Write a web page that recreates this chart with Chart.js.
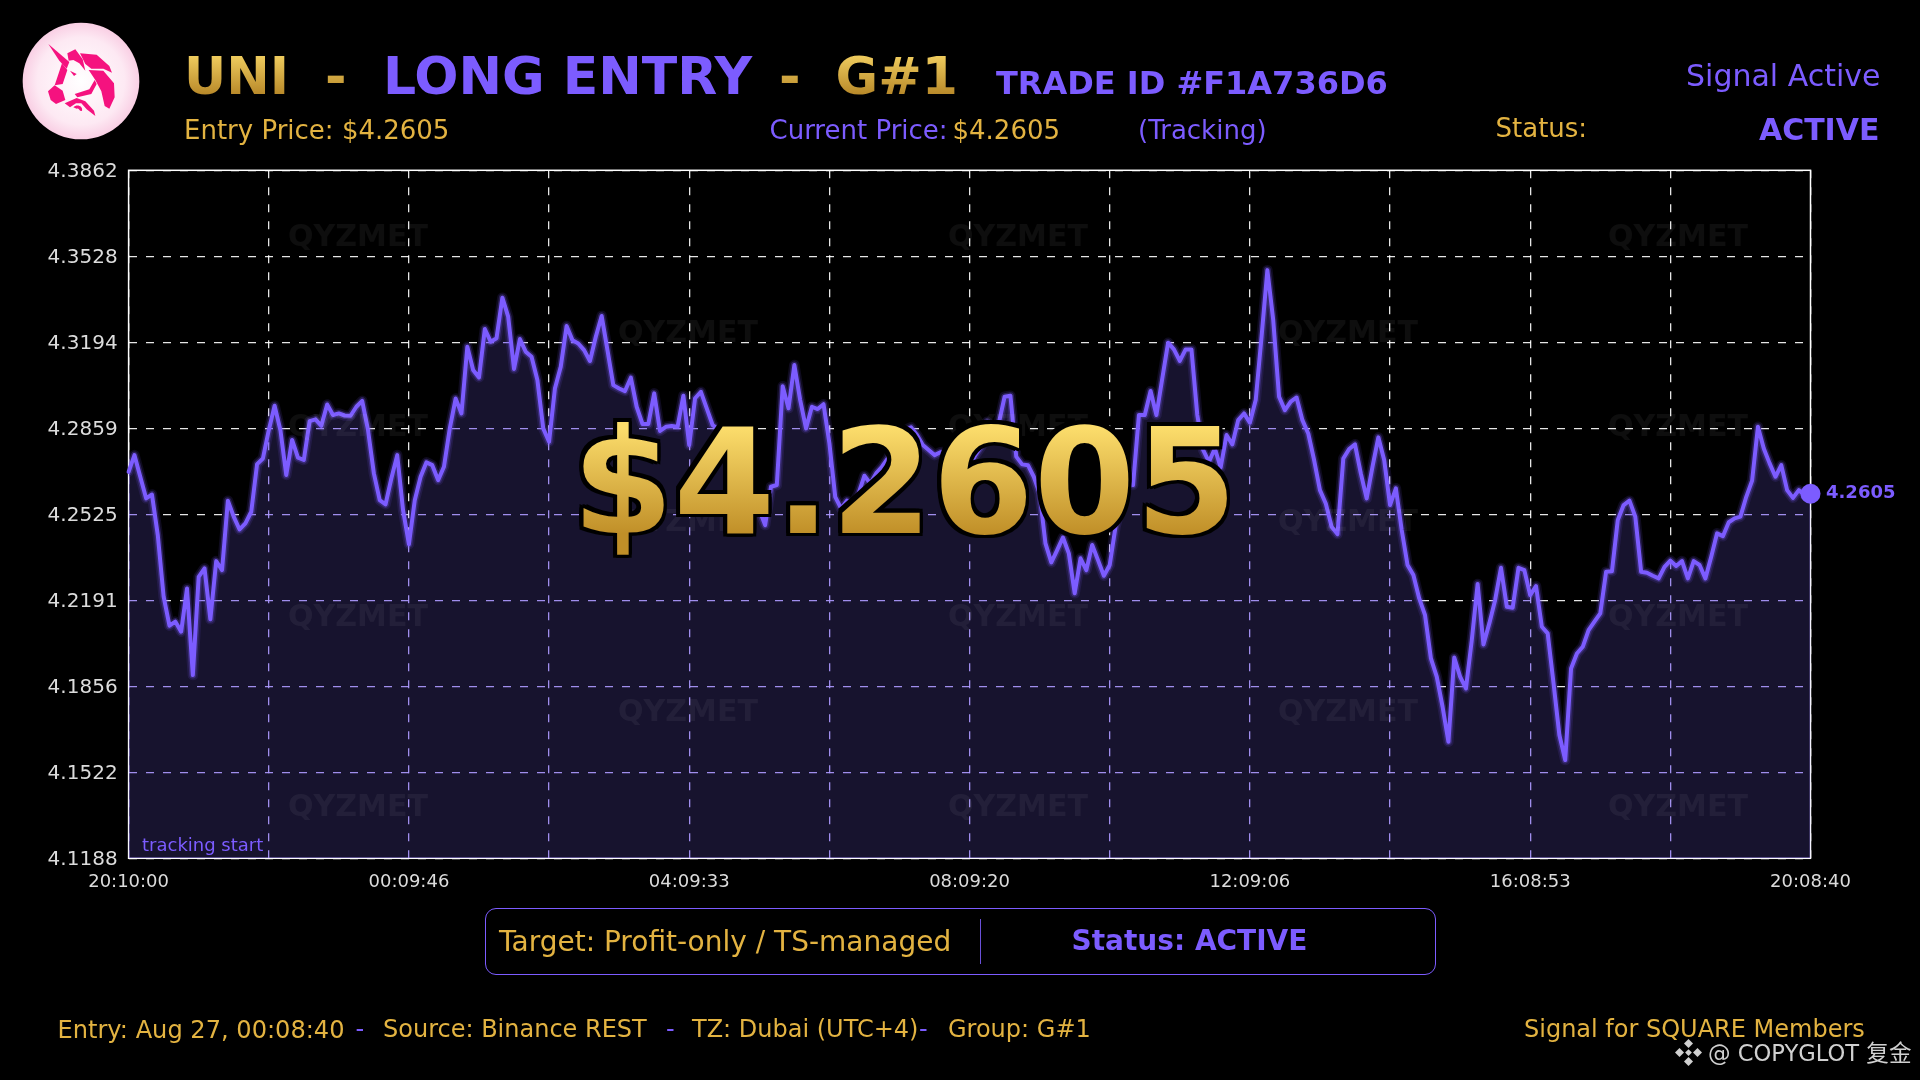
<!DOCTYPE html>
<html><head><meta charset="utf-8">
<script src="https://cdn.jsdelivr.net/npm/chart.js@4"></script>
<style>
html,body{margin:0;padding:0;background:#000;width:1920px;height:1080px;overflow:hidden;font-family:"DejaVu Sans",sans-serif}
#c{position:absolute;left:0;top:0}
.t{position:absolute;white-space:pre;line-height:1.164}
.goldG{background:linear-gradient(180deg,#f0cd5f 15%,#b98a2a 80%);-webkit-background-clip:text;background-clip:text;color:transparent}
.big{background:linear-gradient(180deg,#fbdc6b 18%,#c08f28 80%);-webkit-background-clip:text;background-clip:text;color:transparent;
filter:drop-shadow(3.5px 0 0 #000) drop-shadow(-3.5px 0 0 #000) drop-shadow(0 3.5px 0 #000) drop-shadow(0 -3.5px 0 #000)}
#box{position:absolute;left:484.5px;top:908px;width:951px;height:67px;border:1.5px solid #7c5cff;border-radius:11px;box-sizing:border-box}
#div{position:absolute;left:980px;top:919px;width:1px;height:45px;background:#6a50d8}
</style></head><body>
<canvas id="c" width="1920" height="1080" style="width:1920px;height:1080px"></canvas>
<svg style="position:absolute;left:20px;top:20px" width="122" height="122" viewBox="0 0 366 366">
<defs><radialGradient id="lg" cx="50%" cy="50%" r="50%"><stop offset="0" stop-color="#fff"/><stop offset=".75" stop-color="#fde9f3"/><stop offset="1" stop-color="#f9cfe4"/></radialGradient></defs>
<circle cx="183" cy="183" r="175" fill="url(#lg)"/>
<g fill="#f5127f">
<path d="M85 72L148 126L140 146L118 122Z"/>
<path d="M126 130L142 150L128 192L104 196Z" fill="#f5127f"/>
<path d="M142 100L166 88L188 118L196 152L178 130L160 120L146 122Z"/>
<path d="M180 100L230 104L268 138L276 158L250 146L214 146L196 132Z"/>
<path d="M206 150L250 152L282 190L284 232L268 266L254 258L244 214L226 180Z"/>
<path d="M84 214L104 196L128 212L136 240L108 252L92 240Z"/>
<path d="M164 222L208 208L224 180L230 192L214 222L172 232Z"/>
<path d="M134 250L170 234L196 244L222 272L226 288L200 268L184 250L168 250L150 262Z"/>
<path d="M160 262C170 250 190 258 186 272C176 276 180 262 170 266Z"/>
<path d="M150 152L170 162L162 168Z"/>
</g></svg>
<div id="box"></div><div id="div"></div>
<svg style="position:absolute;left:1675px;top:1039px" width="27" height="27" viewBox="0 0 24 24" fill="#d0d0d0">
<path d="M12 0L16 4L12 8L8 4Z"/><path d="M4 8L8 12L4 16L0 12Z"/><path d="M20 8L24 12L20 16L16 12Z"/><path d="M12 9L15 12L12 15L9 12Z"/><path d="M12 16L16 20L12 24L8 20Z"/>
</svg>
<script>
const xTickLabels=['20:10:00','','00:09:46','','04:09:33','','08:09:20','','12:09:06','','16:08:53','','20:08:40'];
const yTickLabels=['4.1188','4.1522','4.1856','4.2191','4.2525','4.2859','4.3194','4.3528','4.3862'];
const prices=[
4.2690,4.2755,4.2671,4.2587,4.2602,4.2444,4.2205,4.2092,4.2108,4.2069,4.2237,4.1900,4.2282,4.2315,4.2117,4.2343,4.2308,4.2578,4.2516,4.2466,
4.2490,4.2535,4.2720,4.2742,4.2852,4.2947,4.2852,4.2678,4.2814,4.2745,4.2736,4.2887,4.2894,4.2869,4.2952,4.2911,4.2917,4.2909,4.2908,4.2943,
4.2966,4.2852,4.2684,4.2580,4.2564,4.2665,4.2755,4.2541,4.2409,4.2580,4.2671,4.2727,4.2716,4.2658,4.2710,4.2859,4.2975,4.2917,4.3176,4.3086,
4.3057,4.3245,4.3196,4.3209,4.3367,4.3293,4.3090,4.3206,4.3157,4.3137,4.3047,4.2859,4.2807,4.3014,4.3099,4.3257,4.3202,4.3189,4.3163,4.3121,
4.3215,4.3296,4.3163,4.3027,4.3014,4.3004,4.3056,4.2943,4.2876,4.2876,4.2995,4.2849,4.2865,4.2868,4.2865,4.2986,4.2794,4.2976,4.3001,4.2937,
4.2872,4.2856,4.2839,4.2801,4.2723,4.2658,4.2632,4.2593,4.2542,4.2483,4.2632,4.2639,4.3023,4.2937,4.3105,4.2969,4.2859,4.2943,4.2934,4.2953,
4.2801,4.2593,4.2548,4.2578,4.2561,4.2606,4.2675,4.2645,4.2684,4.2710,4.2742,4.2788,4.2827,4.2852,4.2863,4.2833,4.2794,4.2775,4.2755,4.2766,
4.2768,4.2736,4.2710,4.2690,4.2710,4.2755,4.2788,4.2885,4.2865,4.2878,4.2982,4.2986,4.2749,4.2719,4.2716,4.2671,4.2606,4.2412,4.2338,4.2386,
4.2435,4.2373,4.2218,4.2354,4.2308,4.2406,4.2347,4.2286,4.2328,4.2477,4.2567,4.2645,4.2639,4.2911,4.2911,4.3004,4.2911,4.3053,4.3192,4.3166,
4.3121,4.3166,4.3166,4.2911,4.2775,4.2729,4.2781,4.2707,4.2833,4.2797,4.2891,4.2917,4.2881,4.2969,4.3215,4.3474,4.3280,4.2982,4.2930,4.2963,
4.2979,4.2891,4.2839,4.2736,4.2619,4.2567,4.2477,4.2448,4.2742,4.2779,4.2797,4.2684,4.2587,4.2710,4.2824,4.2736,4.2561,4.2626,4.2464,4.2328,
4.2289,4.2198,4.2133,4.1965,4.1894,4.1777,4.1641,4.1968,4.1894,4.1848,4.2036,4.2254,4.2019,4.2101,4.2192,4.2317,4.2166,4.2162,4.2317,4.2308,
4.2211,4.2246,4.2088,4.2062,4.1868,4.1667,4.1570,4.1926,4.1984,4.2010,4.2075,4.2108,4.2140,4.2302,4.2304,4.2503,4.2561,4.2578,4.2516,4.2302,
4.2298,4.2286,4.2276,4.2321,4.2345,4.2324,4.2343,4.2276,4.2343,4.2328,4.2276,4.2360,4.2451,4.2440,4.2494,4.2509,4.2516,4.2593,4.2656,4.2865,
4.2781,4.2723,4.2671,4.2716,4.2619,4.2589,4.2619,4.2600,4.2605];
const PURPLE='#7c5cff',GOLD='#e3b341';
const lastIndex=prices.length-1;
const pts=prices.map((y,x)=>({x,y}));
const stage={
 id:'stage',
 beforeDraw(c){const x=c.ctx;x.save();x.fillStyle='#000';x.fillRect(0,0,c.width,c.height);x.restore();},
 beforeDatasetsDraw(c){const x=c.ctx,a=c.chartArea;x.save();x.strokeStyle='#fff';x.lineWidth=1.5;x.setLineDash([]);
  x.strokeRect(a.left,a.top,a.right-a.left,a.bottom-a.top);x.restore();x.globalCompositeOperation='multiply';},
 afterDatasetDraw(c,args){const x=c.ctx;if(args.index===4)x.globalCompositeOperation='lighter';if(args.index===3)x.globalCompositeOperation='source-over';},
 afterDatasetsDraw(c){c.ctx.globalCompositeOperation='source-over';}
};
const base={data:pts,pointRadius:0,tension:0,parsing:false,normalized:true,borderJoinStyle:'round',borderCapStyle:'round'};
new Chart(document.getElementById('c'),{
 type:'line',
 data:{datasets:[
  {...base,borderColor:PURPLE,borderWidth:4,fill:false,clip:false,
   pointRadius:c=>c.dataIndex===lastIndex?10:0,pointBackgroundColor:PURPLE,pointBorderWidth:0},
  {...base,borderColor:'rgba(124,92,255,0.26)',borderWidth:7,fill:false},
  {...base,borderColor:'rgba(124,92,255,0.12)',borderWidth:10.5,fill:false},
  {...base,borderWidth:0,borderColor:'transparent',fill:'start',backgroundColor:'rgb(23,19,46)'},
  {...base,borderWidth:0,borderColor:'transparent',fill:'start',backgroundColor:'rgb(152,136,212)'}
 ]},
 options:{
  responsive:false,animation:false,devicePixelRatio:1,
  layout:{padding:{top:170.3,right:109.5,left:0,bottom:0}},
  plugins:{legend:{display:false},tooltip:{enabled:false},title:{display:false}},
  scales:{
   x:{type:'linear',min:0,max:lastIndex,
    afterFit(s){s.height=221.7;},
    grid:{color:'rgba(255,255,255,0.9)',lineWidth:1.3,drawTicks:false},
    border:{display:false,dash:[8,9]},
    afterBuildTicks(s){s.ticks=xTickLabels.map((_,i)=>({value:i*lastIndex/(xTickLabels.length-1)}));},
    ticks:{autoSkip:false,maxRotation:0,minRotation:0,padding:13,color:'#dcdcdc',font:{family:'DejaVu Sans',size:18},
     callback:(v,i)=>xTickLabels[i]}},
   y:{min:4.1188,max:4.3862,
    afterFit(s){s.width=128.6;},
    grid:{color:'rgba(255,255,255,0.9)',lineWidth:1.3,drawTicks:false},
    border:{display:false,dash:[8,9]},
    afterBuildTicks(s){s.ticks=yTickLabels.map((_,i)=>({value:s.min+i*(s.max-s.min)/(yTickLabels.length-1)}));},
    ticks:{autoSkip:false,padding:11,labelOffset:1.2,color:'#dcdcdc',font:{family:'DejaVu Sans',size:20},
     callback:(v,i)=>yTickLabels[i]}}
  }
 },
 plugins:[stage]
});
function T(text,x,base,size,opt){opt=opt||{};const d=document.createElement('div');d.className='t '+(opt.cls||'');d.textContent=text;
 d.style.fontSize=size+'px';d.style.left=x+'px';d.style.top=(base-.928*size)+'px';
 if(opt.color)d.style.color=opt.color;if(opt.bold)d.style.fontWeight='700';if(opt.right)d.style.transform='translateX(-100%)';if(opt.center)d.style.transform='translateX(-50%)';
 if(opt.font)d.style.fontFamily=opt.font;document.body.appendChild(d);return d;}
const wmA=[358,1018,1678],wmAy=[247,437,627,817],wmB=[688,1348],wmBy=[343,532,722];
wmA.forEach(x=>wmAy.forEach(y=>T('QYZMET',x,y,30,{bold:1,center:1,color:'rgba(255,255,255,0.055)'})));
wmB.forEach(x=>wmBy.forEach(y=>T('QYZMET',x,y,30,{bold:1,center:1,color:'rgba(255,255,255,0.055)'})));
T('UNI',184,94,52,{bold:1,cls:'goldG'});
T('-',325,94,52,{bold:1,cls:'goldG'});
T('LONG ENTRY',383,94,52,{bold:1,color:PURPLE});
T('-',779,94,52,{bold:1,cls:'goldG'});
T('G#1',835.5,94,52,{bold:1,cls:'goldG'});
T('TRADE ID #F1A736D6',996,95,32,{bold:1,color:PURPLE});
T('Signal Active',1880.5,86.5,30,{right:1,color:PURPLE});
T('Entry Price: $4.2605',184,139.5,26,{color:GOLD});
T('Current Price:',769.5,139.5,26,{color:PURPLE});
T('$4.2605',952.5,139.5,26,{color:GOLD});
T('(Tracking)',1138,139.5,26,{color:PURPLE});
T('Status:',1495.5,137.5,26,{color:GOLD});
T('ACTIVE',1879.5,141,30,{bold:1,right:1,color:PURPLE});
T('tracking start',142,851.5,18,{color:PURPLE});
T('4.2605',1826,499,18,{bold:1,color:PURPLE});
T('$4.2605',572,533.5,146,{bold:1,cls:'big'});
T('Target: Profit-only / TS-managed',499,951.5,28,{color:GOLD});
T('Status: ACTIVE',1071.5,951,28,{bold:1,color:PURPLE});
T('Entry: Aug 27, 00:08:40',57.5,1038.6,24.1,{color:GOLD});
T('-',355.5,1038.6,24,{color:PURPLE});
T('Source: Binance REST',383,1038.6,24,{color:GOLD});
T('-',666,1038.6,24,{color:PURPLE});
T('TZ: Dubai (UTC+4)',692,1038.6,24,{color:GOLD});
T('-',919,1038.6,24,{color:PURPLE});
T('Group: G#1',948,1038.6,24,{color:GOLD});
T('Signal for SQUARE Members',1524,1038.6,24,{color:GOLD});
T('@ COPYGLOT 复金',1708,1061,22.6,{color:'#d0d0d0',font:'"DejaVu Sans","Noto Sans CJK SC",sans-serif'});
</script>
</body></html>
